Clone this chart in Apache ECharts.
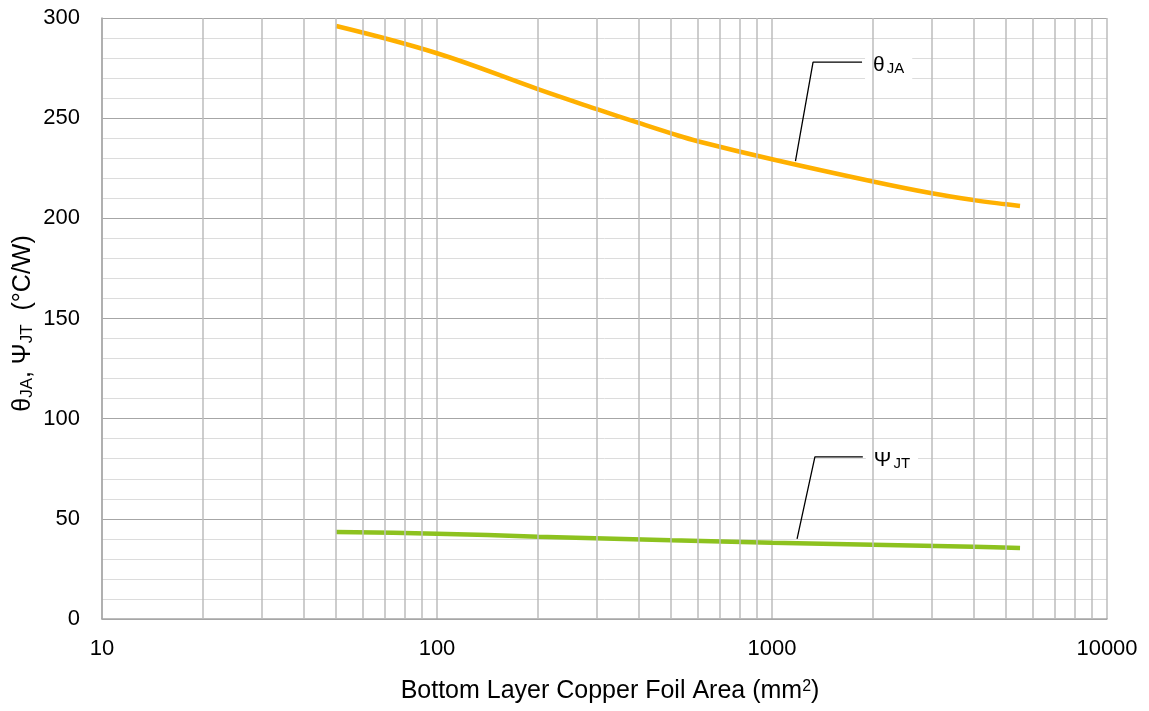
<!DOCTYPE html>
<html>
<head>
<meta charset="utf-8">
<script src="https://cdn.jsdelivr.net/npm/echarts@6/dist/echarts.min.js"></script>
<style>
  html, body { margin: 0; padding: 0; background: #fff; }
  #chart { width: 1149px; height: 711px; }
</style>
</head>
<body>
<div id="chart"></div>
<script>
// Copper foil area (mm²) sample points
const areaTheta = [50, 100, 200, 300, 400, 500, 600, 1000, 2000, 3000, 4000, 5000, 5500];
const thetaJA   = [296, 282.4, 264.5, 254.5, 247.6, 242.4, 238.5, 229.5, 218.4, 212.5, 209.1, 207.0, 206.2];

const areaPsi = [50, 100, 200, 500, 1000, 2000, 4000, 5500];
const psiJT   = [43.4, 42.6, 41.1, 39.3, 38.1, 37.1, 36.1, 35.4];

// Leader lines for the curve tags, in data units [area, value]
const thetaLeader = [[1175, 228.5], [1326, 278], [1857, 278]];
const psiLeader   = [[1188, 40], [1343, 80.9], [1867, 80.9]];

// Tick values
const yTicks = { min: 0, max: 300, step: 50 };
const xMinorGrid = [20, 30, 40, 50, 60, 70, 80, 90,
                    200, 300, 400, 500, 600, 700, 800, 900,
                    2000, 3000, 4000, 5000, 6000, 7000, 8000, 9000];

const FONT = '"Liberation Sans", Arial, sans-serif';
const chart = echarts.init(document.getElementById('chart'));

const zip = (xs, ys) => xs.map((x, i) => [x, ys[i]]);

function leaderSeries(name, pts, main, sub) {
  return {
    name, type: 'line', data: pts, z: 4, silent: true,
    symbol: 'none', animation: false,
    lineStyle: { color: '#000', width: 1.3 },
    endLabel: {
      show: true, distance: 3,
      backgroundColor: '#fff', padding: [6, 8, 4, 8],
      formatter: '{m|' + main + '}{s|' + sub + '}',
      rich: {
        m: { fontFamily: FONT, fontSize: 21, color: '#000', lineHeight: 26, verticalAlign: 'bottom' },
        s: { fontFamily: FONT, fontSize: 15, color: '#000', lineHeight: 14, verticalAlign: 'bottom', padding: [0, 0, 0, 2] }
      }
    }
  };
}

chart.setOption({
  animation: false,
  backgroundColor: '#fff',
  grid: { left: 102, right: 42, top: 18, bottom: 92, containLabel: false },
  xAxis: {
    type: 'log', logBase: 10, min: 10, max: 10000,
    axisLine: { show: true, lineStyle: { color: '#a6a6a6', width: 1.5 } },
    axisTick: { show: false },
    axisLabel: { fontFamily: FONT, fontSize: 22, color: '#000', margin: 19,
                 formatter: v => String(Math.round(v)) },
    splitLine: { show: true, lineStyle: { color: '#bdbdbd', width: 1.5 } },
    name: '{t|Bottom Layer Copper Foil Area (mm}{p|2}{t|)}',
    nameLocation: 'middle', nameGap: 60,
    nameTextStyle: {
      padding: [0, 0, 0, 11],
      rich: {
        t: { fontFamily: FONT, fontSize: 25, color: '#000', lineHeight: 28, verticalAlign: 'top' },
        p: { fontFamily: FONT, fontSize: 16, color: '#000', lineHeight: 16, verticalAlign: 'top' }
      }
    }
  },
  yAxis: {
    type: 'value', min: yTicks.min, max: yTicks.max, interval: yTicks.step,
    axisLine: { show: true, lineStyle: { color: '#a6a6a6', width: 1.5 } },
    axisTick: { show: false },
    minorTick: { show: false, splitNumber: 5 },
    minorSplitLine: { show: true, lineStyle: { color: '#dcdcdc', width: 1 } },
    splitLine: { show: true, lineStyle: { color: '#a6a6a6', width: 1.2 } },
    axisLabel: { fontFamily: FONT, fontSize: 22, color: '#000', margin: 22 },
    name: '{m|θ}{s|JA}{m|, Ψ}{s|JT}{m|  (°C/W)}',
    nameLocation: 'middle', nameRotate: 90, nameGap: 66,
    nameMoveOverlap: false,
    nameTextStyle: {
      padding: [0, 10, 0, 0],
      rich: {
        m: { fontFamily: FONT, fontSize: 25, color: '#000', lineHeight: 30, verticalAlign: 'bottom' },
        s: { fontFamily: FONT, fontSize: 17, color: '#000', lineHeight: 16, verticalAlign: 'bottom' }
      }
    }
  },
  series: [
    {
      name: 'minor-grid', type: 'line', data: [], z: 1, silent: true,
      markLine: {
        silent: true, symbol: 'none', animation: false,
        label: { show: false },
        lineStyle: { color: '#bdbdbd', width: 1.5, type: 'solid' },
        data: xMinorGrid.map(v => ({ xAxis: v }))
      }
    },
    {
      name: 'θJA', type: 'line', data: zip(areaTheta, thetaJA), z: 3,
      smooth: 0.4, symbol: 'none',
      lineStyle: { color: '#ffb000', width: 4.5 }
    },
    {
      name: 'ΨJT', type: 'line', data: zip(areaPsi, psiJT), z: 3,
      smooth: 0.3, symbol: 'none',
      lineStyle: { color: '#8dc21f', width: 4.5 }
    },
    leaderSeries('θJA tag', thetaLeader, 'θ', 'JA'),
    leaderSeries('ΨJT tag', psiLeader, 'Ψ', 'JT')
  ]
});
</script>
</body>
</html>
